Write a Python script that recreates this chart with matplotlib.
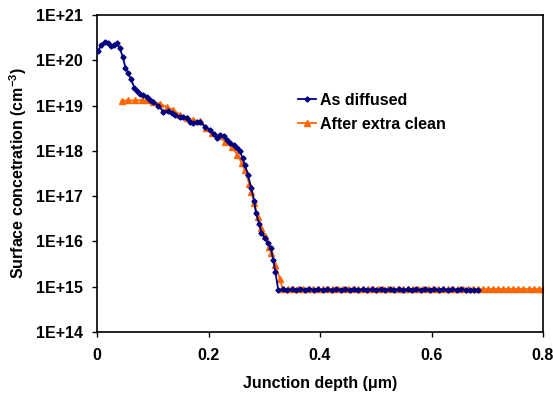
import matplotlib
matplotlib.use("Agg")
import matplotlib.pyplot as plt
from matplotlib.ticker import FixedLocator, FixedFormatter, NullLocator

plt.rcParams['font.family'] = ['Liberation Sans', 'DejaVu Sans']
plt.rcParams['font.weight'] = 'bold'
plt.rcParams['mathtext.fontset'] = 'custom'
plt.rcParams['mathtext.rm'] = 'Liberation Sans:bold'
plt.rcParams['mathtext.bf'] = 'Liberation Sans:bold'

# As diffused
blue_x = [0.002, 0.008, 0.014, 0.020, 0.026, 0.031, 0.036, 0.041, 0.046, 0.051, 0.056,
          0.061, 0.067, 0.071, 0.077, 0.083, 0.089, 0.095, 0.101, 0.110, 0.119, 0.128,
          0.134, 0.140, 0.149, 0.155, 0.161, 0.167, 0.173, 0.179, 0.185, 0.194, 0.203,
          0.209, 0.215, 0.221, 0.227, 0.233, 0.239, 0.245, 0.251, 0.256, 0.261, 0.265,
          0.271, 0.276, 0.282, 0.285, 0.291, 0.295, 0.301, 0.307, 0.312, 0.316, 0.320,
          0.325, 0.333, 0.341, 0.349, 0.357, 0.365, 0.373, 0.381, 0.389, 0.397, 0.405,
          0.413, 0.421, 0.429, 0.437, 0.445, 0.453, 0.461, 0.469, 0.477, 0.485, 0.493,
          0.501, 0.509, 0.517, 0.525, 0.533, 0.541, 0.549, 0.557, 0.565, 0.573, 0.581,
          0.589, 0.597, 0.605, 0.613, 0.621, 0.629, 0.637, 0.645, 0.653, 0.661, 0.669,
          0.677, 0.683]
blue_y = [1.6e20, 2.2e20, 2.57e20, 2.35e20, 2.07e20, 2.2e20, 2.36e20, 1.84e20, 1.2e20, 6.9e19, 5.2e19,
          3.8e19, 2.5e19, 2.1e19, 1.8e19, 1.7e19, 1.56e19, 1.33e19, 1.2e19, 1.0e19, 7.3e18, 7.6e18,
          6.8e18, 6.2e18, 5.7e18, 5.5e18, 5.3e18, 4.4e18, 4.1e18, 4.3e18, 4.4e18, 3.4e18, 2.9e18,
          2.3e18, 1.9e18, 2.2e18, 2.1e18, 1.7e18, 1.5e18, 1.35e18, 1.15e18, 1.0e18, 7.0e17, 4.9e17,
          2.95e17, 1.55e17, 7.9e16, 4.3e16, 2.4e16, 1.57e16, 1.18e16, 9.1e15, 7.0e15, 3.9e15, 2.1e15,
          8.6e14, 8.8e14, 8.6e14, 8.8e14, 8.5e14, 8.8e14, 8.6e14, 8.8e14, 8.5e14, 8.8e14, 8.6e14,
          8.8e14, 8.5e14, 8.7e14, 8.6e14, 8.8e14, 8.5e14, 8.8e14, 8.6e14, 8.7e14, 8.5e14, 8.8e14,
          8.6e14, 8.7e14, 8.5e14, 8.8e14, 8.6e14, 8.7e14, 8.5e14, 8.8e14, 8.6e14, 8.7e14, 8.4e14,
          8.8e14, 8.6e14, 8.7e14, 8.5e14, 8.8e14, 8.5e14, 8.7e14, 8.6e14, 8.7e14, 8.4e14, 8.6e14,
          8.5e14, 8.6e14]

# After extra clean
orange_x = [0.044, 0.056, 0.068, 0.080, 0.090, 0.101, 0.113, 0.125, 0.137, 0.149, 0.161,
            0.173, 0.185, 0.196, 0.206, 0.218, 0.230, 0.242, 0.252, 0.260, 0.265, 0.273,
            0.277, 0.282, 0.288, 0.295, 0.301, 0.309, 0.313, 0.320, 0.328,
            0.333, 0.342, 0.351, 0.360, 0.369, 0.378, 0.387, 0.396, 0.405, 0.414, 0.423,
            0.432, 0.441, 0.450, 0.459, 0.468, 0.477, 0.486, 0.495, 0.504, 0.513, 0.522,
            0.531, 0.540, 0.549, 0.558, 0.567, 0.576, 0.585, 0.594, 0.603, 0.612, 0.621,
            0.630, 0.639, 0.648, 0.657, 0.666, 0.675, 0.684, 0.693, 0.702, 0.711, 0.720,
            0.729, 0.738, 0.747, 0.756, 0.765, 0.774, 0.783, 0.792, 0.800]
orange_y = [1.28e19, 1.3e19, 1.3e19, 1.32e19, 1.3e19, 1.2e19, 1.1e19, 9.3e18, 8.0e18, 6.2e18, 5.3e18,
            4.8e18, 4.5e18, 3.2e18, 2.5e18, 2.1e18, 1.6e18, 1.2e18, 8.1e17, 5.3e17, 3.8e17, 1.9e17,
            1.26e17, 6.9e16, 3.5e16, 1.95e16, 1.3e16, 7.7e15, 5.5e15, 3.0e15, 1.5e15,
            8.8e14, 8.9e14, 8.8e14, 8.9e14, 8.8e14, 8.9e14, 8.8e14, 8.9e14, 8.8e14, 8.9e14, 8.8e14,
            8.9e14, 8.8e14, 8.9e14, 8.8e14, 8.9e14, 8.8e14, 8.9e14, 8.8e14, 8.9e14, 8.8e14, 8.9e14,
            8.8e14, 8.9e14, 8.8e14, 8.9e14, 8.8e14, 8.9e14, 8.8e14, 8.9e14, 8.8e14, 8.9e14, 8.8e14,
            8.9e14, 8.8e14, 8.9e14, 8.8e14, 8.9e14, 8.8e14, 8.9e14, 8.8e14, 8.9e14, 8.8e14, 8.9e14,
            8.8e14, 8.9e14, 8.8e14, 8.9e14, 8.8e14, 8.9e14, 8.8e14, 8.9e14, 8.8e14]

y_ticks = [1e14, 1e15, 1e16, 1e17, 1e18, 1e19, 1e20, 1e21]
y_tick_labels = ['1E+14', '1E+15', '1E+16', '1E+17', '1E+18', '1E+19', '1E+20', '1E+21']
x_ticks = [0, 0.2, 0.4, 0.6, 0.8]
x_tick_labels = ['0', '0.2', '0.4', '0.6', '0.8']

FS = 11.5

fig = plt.figure(figsize=(5.53, 3.96), dpi=100)
ax = fig.add_axes([97/553, 1-332/396, (543-97)/553, (332-15)/396])

ax.plot(orange_x, orange_y, color='#FF6600', lw=1.3, marker='^', ms=3.8,
        mec='#FF6600', mfc='#FF6600', label='After extra clean', zorder=2)
ax.plot(blue_x, blue_y, color='#000080', lw=1.3, marker='D', ms=2.6,
        mec='#000080', mfc='#000080', label='As diffused', zorder=3)

ax.set_yscale('log')
ax.set_xlim(0, 0.8)
ax.set_ylim(1e14, 1e21)
ax.yaxis.set_major_locator(FixedLocator(y_ticks))
ax.yaxis.set_major_formatter(FixedFormatter(y_tick_labels))
ax.yaxis.set_minor_locator(NullLocator())
ax.set_xticks(x_ticks)
ax.set_xticklabels(x_tick_labels)
ax.tick_params(axis='both', direction='out', length=3.6, width=1, labelsize=FS)
ax.tick_params(axis='y', pad=6.5)
ax.tick_params(axis='x', pad=8)
for s in ax.spines.values():
    s.set_linewidth(1.2)

ax.set_xlabel('Junction depth (\u03bcm)', fontsize=FS, fontweight='bold', labelpad=9)
ax.set_ylabel(r'Surface concetration (cm$^{-3}$)', fontsize=FS, fontweight='bold', labelpad=5)

h, l = ax.get_legend_handles_labels()
leg = ax.legend(h[::-1], l[::-1], loc='upper left', bbox_to_anchor=(201/446, 1-(93-15)/317),
                frameon=False, fontsize=FS, handlelength=1.1, handletextpad=0.3,
                labelspacing=0.55, borderaxespad=0, borderpad=0)
for t in leg.get_texts():
    t.set_fontweight('bold')

fig.savefig('out.png', dpi=100)
